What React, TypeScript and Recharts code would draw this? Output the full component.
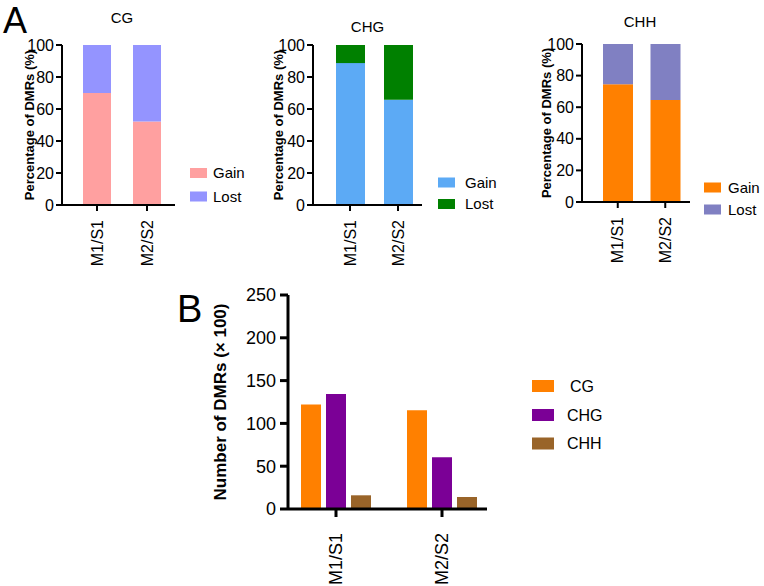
import React from 'react';
import { BarChart, Bar, XAxis, YAxis } from 'recharts';

const categories = ['M1/S1', 'M2/S2'];
const pctTicks = [0, 20, 40, 60, 80, 100];
const countTicks = [0, 50, 100, 150, 200, 250];
const stackKeys = ['Gain', 'Lost'];

const cgGain = [70, 52.2];
const cgLost = [30, 47.8];
const chgGain = [88.7, 65.8];
const chgLost = [11.3, 34.2];
const chhGain = [74.6, 64.5];
const chhLost = [25.4, 35.5];

const contexts = ['CG', 'CHG', 'CHH'];
const countCG = [122, 115.4];
const countCHG = [134.3, 60.5];
const countCHH = [16, 14];

const FONT = '"Liberation Sans", Arial, sans-serif';

const RotTick = (props: any) => {
  const { x, y, payload, size, shift } = props;
  const ty = y + shift;
  return (
    <text
      x={x}
      y={ty}
      transform={`rotate(-90, ${x}, ${ty})`}
      textAnchor="end"
      dominantBaseline="central"
      fontSize={size}
      fontFamily={FONT}
      fill="#000"
    >
      {payload.value}
    </text>
  );
};

interface PanelProps {
  left: number;
  top: number;
  gain: number[];
  lost: number[];
  colors: string[];
  margin: { top: number; right: number; bottom: number; left: number };
  pad: { left: number; right: number };
  labelOffset: number;
  barSize: number;
}

function PercentPanel({ left, top, gain, lost, colors, margin, pad, labelOffset, barSize }: PanelProps) {
  const data = categories.map((c, i) => ({ name: c, Gain: gain[i], Lost: lost[i] }));
  return (
    <div style={{ position: 'absolute', left, top }}>
      <BarChart width={250} height={290} data={data} margin={margin}>
        <XAxis
          dataKey="name"
          height={60}
          padding={pad}
          axisLine={{ stroke: '#000', strokeWidth: 2 }}
          tickLine={{ stroke: '#000', strokeWidth: 2 }}
          tickSize={6}
          tick={(p: any) => <RotTick {...p} size={16} shift={7} />}
          interval={0}
        />
        <YAxis
          width={40}
          domain={[0, 100]}
          ticks={pctTicks}
          interval={0}
          axisLine={{ stroke: '#000', strokeWidth: 2 }}
          tickLine={{ stroke: '#000', strokeWidth: 2 }}
          tickSize={6}
          tick={{ fill: '#000', fontSize: 16, fontFamily: FONT }}
          label={{
            value: 'Percentage of DMRs (%)',
            angle: -90,
            position: 'insideLeft',
            offset: labelOffset,
            style: { textAnchor: 'middle', fontWeight: 'bold', fontSize: 13, fontFamily: FONT, fill: '#000' },
          }}
        />
        <Bar dataKey="Gain" stackId="s" fill={colors[0]} barSize={barSize} isAnimationActive={false} />
        <Bar dataKey="Lost" stackId="s" fill={colors[1]} barSize={barSize} isAnimationActive={false} />
      </BarChart>
    </div>
  );
}

const cgColors = ['#FFA0A0', '#9494FF'];
const chgColors = ['#5CAAF5', '#008000'];
const chhColors = ['#FF8000', '#8080C2'];
const countColors = ['#FF8000', '#7B0096', '#996429'];

export default function App() {
  const countData = categories.map((c, i) => ({
    name: c,
    CG: countCG[i],
    CHG: countCHG[i],
    CHH: countCHH[i],
  }));

  const legendA = [
    { x: 190, text: 213, ys: [173, 196.5], colors: cgColors },
    { x: 438, text: 465, ys: [182.5, 204], colors: chgColors },
    { x: 704, text: 728, ys: [187.5, 209.5], colors: chhColors },
  ];
  const legendBY = [386, 415, 443.5];

  return (
    <div style={{ position: 'absolute', left: 0, top: 0, width: 764, height: 586, background: '#fff', fontFamily: FONT }}>
      <PercentPanel
        left={0}
        top={0}
        gain={cgGain}
        lost={cgLost}
        colors={cgColors}
        margin={{ top: 45, right: 75, bottom: 25, left: 22 }}
        pad={{ left: 10, right: 3 }}
        labelOffset={7.5}
        barSize={28}
      />
      <PercentPanel
        left={250}
        top={0}
        gain={chgGain}
        lost={chgLost}
        colors={chgColors}
        margin={{ top: 45, right: 78, bottom: 25, left: 23 }}
        pad={{ left: 13, right: 0 }}
        labelOffset={5}
        barSize={29}
      />
      <PercentPanel
        left={520}
        top={0}
        gain={chhGain}
        lost={chhLost}
        colors={chhColors}
        margin={{ top: 44, right: 80, bottom: 28, left: 22 }}
        pad={{ left: 12, right: 1 }}
        labelOffset={4.7}
        barSize={30}
      />

      <div style={{ position: 'absolute', left: 180, top: 280 }}>
        <BarChart width={320} height={306} data={countData} margin={{ top: 15, right: 13, bottom: 7, left: 20 }} barGap={5}>
          <XAxis
            dataKey="name"
            height={70}
            padding={{ left: -5, right: -8 }}
            axisLine={{ stroke: '#000', strokeWidth: 3 }}
            tickLine={{ stroke: '#000', strokeWidth: 3 }}
            tickSize={8}
            tick={(p: any) => <RotTick {...p} size={18} shift={14} />}
            interval={0}
          />
          <YAxis
            width={88}
            domain={[0, 250]}
            ticks={countTicks}
            interval={0}
            axisLine={{ stroke: '#000', strokeWidth: 3 }}
            tickLine={{ stroke: '#000', strokeWidth: 3 }}
            tickSize={8}
            tickMargin={4}
            tick={{ fill: '#000', fontSize: 18, fontFamily: FONT }}
            label={{
              value: 'Number of DMRs (× 100)',
              angle: -90,
              position: 'insideLeft',
              offset: 20,
              style: { textAnchor: 'middle', fontWeight: 'bold', fontSize: 17, fontFamily: FONT, fill: '#000' },
            }}
          />
          {contexts.map((k, i) => (
            <Bar key={k} dataKey={k} fill={countColors[i]} barSize={20} isAnimationActive={false} />
          ))}
        </BarChart>
      </div>

      <svg width={764} height={586} style={{ position: 'absolute', left: 0, top: 0, pointerEvents: 'none' }}>
        <text x={3} y={32.5} fontSize={36} fontFamily={FONT} fill="#000">A</text>
        <text x={177} y={322} fontSize={38} fontFamily={FONT} fill="#000">B</text>
        <text x={122} y={22.7} fontSize={15} fontFamily={FONT} textAnchor="middle" fill="#000">CG</text>
        <text x={367.5} y={31.7} fontSize={15} fontFamily={FONT} textAnchor="middle" fill="#000">CHG</text>
        <text x={640} y={27} fontSize={15} fontFamily={FONT} textAnchor="middle" fill="#000">CHH</text>
        {legendA.map((lg, j) =>
          stackKeys.map((k, i) => (
            <g key={`${j}-${k}`}>
              <rect x={lg.x} y={lg.ys[i] - 5} width={17} height={10} fill={lg.colors[i]} />
              <text x={lg.text} y={lg.ys[i] + 5.4} fontSize={15} fontFamily={FONT} fill="#000">{k}</text>
            </g>
          ))
        )}
        {contexts.map((k, i) => (
          <g key={k}>
            <rect x={532} y={legendBY[i] - 6} width={22} height={12} fill={countColors[i]} />
            <text x={k === 'CG' ? 570 : 567} y={legendBY[i] + 5.7} fontSize={16} fontFamily={FONT} fill="#000">{k}</text>
          </g>
        ))}
      </svg>
    </div>
  );
}
